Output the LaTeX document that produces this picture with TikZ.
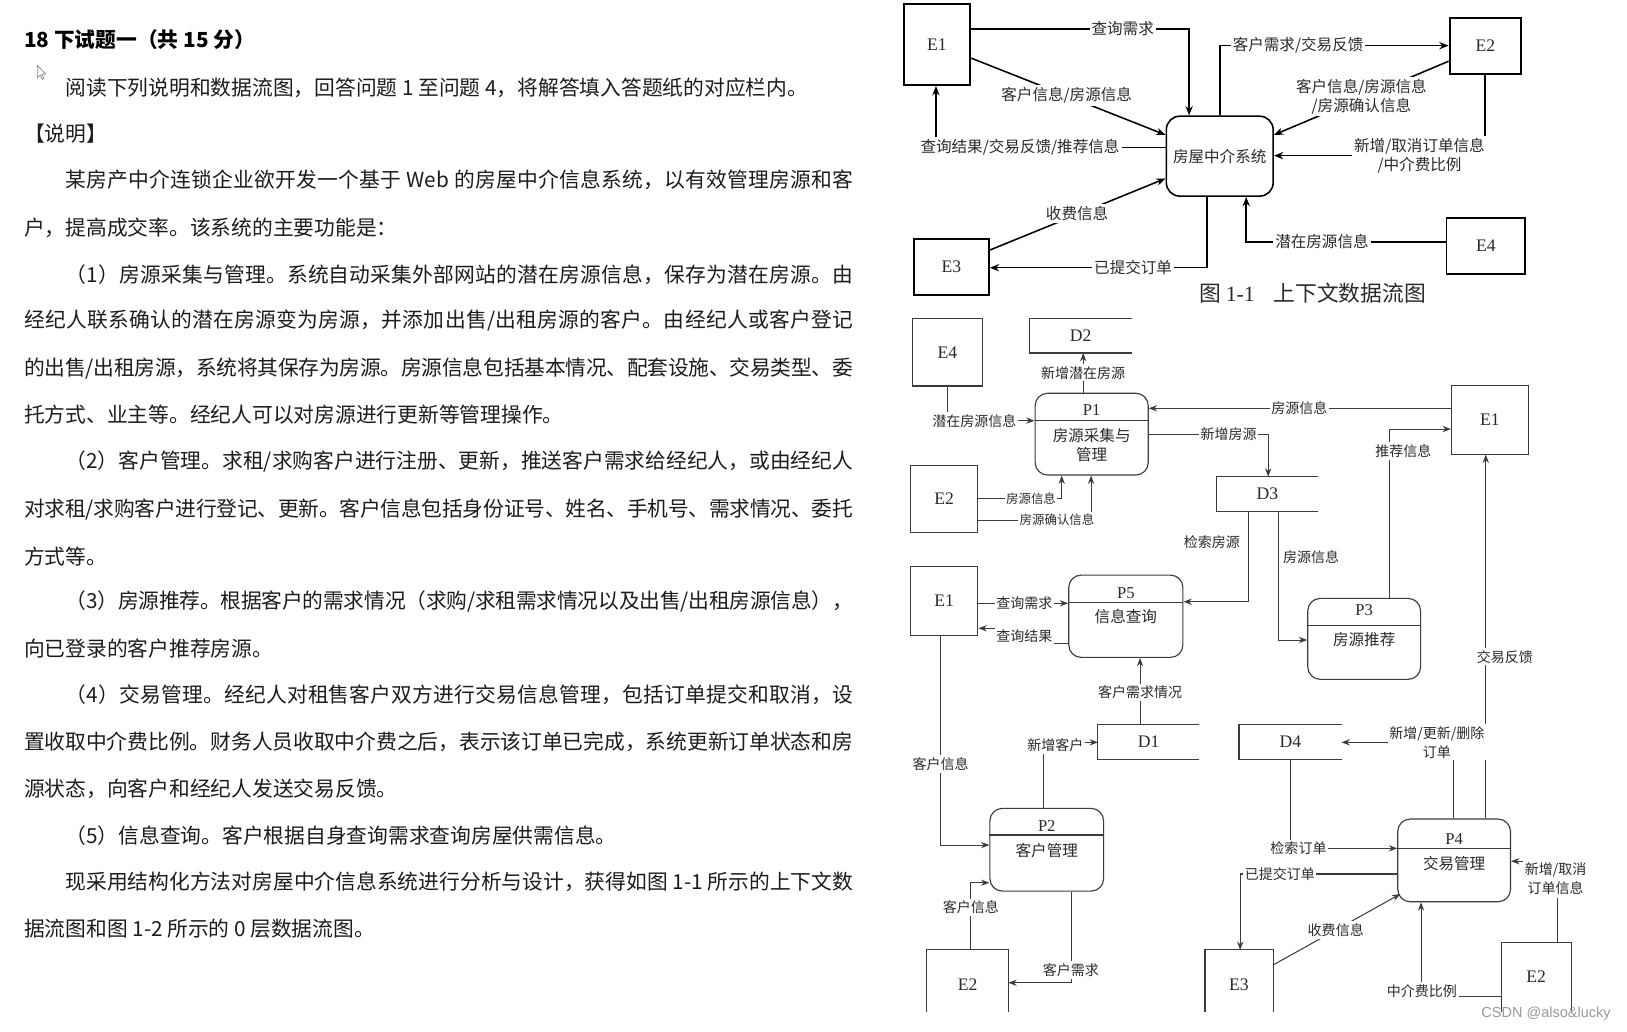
\documentclass[tikz,border=0pt]{standalone}
\usepackage{fontspec}
\setmainfont{Liberation Serif}
\newfontfamily\cjk{Noto Sans CJK SC}
\newfontfamily\wmfont{Liberation Sans}
\usetikzlibrary{arrows.meta,calc}
\definecolor{txt}{HTML}{1C1C1C}
\definecolor{dtx}{HTML}{2A2A2A}
\definecolor{gl}{HTML}{3C3C3C}
\definecolor{wmc}{HTML}{9A9A9A}
\def\sprend{\sprend}
\def\spr#1{\ifx\sprend#1\else#1\hskip 0pt plus 1pt minus 0.6pt\relax\expandafter\spr\fi}
\newcommand{\jst}[2]{\makebox[#1pt][s]{\spr#2\sprend\unskip}}
\begin{document}
\begin{tikzpicture}[x=1pt,y=-1pt,
 ent1/.style={draw=black, line width=1.8pt, inner sep=0pt, font=\fontsize{17}{17}\selectfont, text=dtx},
 sysb/.style={draw=black, line width=1.5pt, rounded corners=13pt, inner sep=0pt, font=\cjk\fontsize{15}{15}\selectfont, text=dtx},
 fa/.style={draw=black, line width=1.5pt, -{Stealth[length=9pt,width=7pt]}},
 la/.style={fill=white, inner xsep=2pt, inner ysep=2pt, font=\cjk\fontsize{15}{18}\selectfont, align=center, text=dtx},
 ent2/.style={draw=gl, line width=1.1pt, inner sep=0pt, font=\fontsize{17}{17}\selectfont, text=dtx},
 proc/.style={draw=gl, line width=1.1pt, rounded corners=12pt, inner sep=0pt},
 ptitle/.style={inner sep=0pt, font=\fontsize{16}{16}\selectfont, text=dtx},
 ptext/.style={inner sep=0pt, font=\cjk\fontsize{15}{17.7}\selectfont, align=center, text=dtx},
 fb/.style={draw=gl, line width=1pt, -{Stealth[length=8pt,width=6pt]}},
 lb/.style={fill=white, inner xsep=1.5pt, inner ysep=2pt, font=\cjk\fontsize{13.5}{18.3}\selectfont, align=center, text=dtx},
 lbs/.style={lb, font=\cjk\fontsize{12}{14}\selectfont},
 store/.style={inner sep=0pt, font=\fontsize{17}{17}\selectfont, text=dtx},
 sline/.style={draw=gl, line width=1.1pt},
 body/.style={anchor=west, inner sep=0pt, font=\cjk\fontsize{20}{24}\selectfont, text=txt},
 divl/.style={draw=gl, line width=1pt}
]
\useasboundingbox[fill=white] (0,0) rectangle (1568,994);

% ---------------- left text ----------------
\node[body, text=black] (t1) at (23,38.5) {\bfseries 18 下试题一（共 15 分）};
\draw[gray, line width=0.6pt, fill=white] (36,63) -- (36,75) -- (38.8,72.3) -- (40.8,76.5) -- (42.3,75.8) -- (40.3,71.6) -- (44,71.4) -- cycle;
\node[body] (t2) at (63,85) {阅读下列说明和数据流图，回答问题 1 至问题 4，将解答填入答题纸的对应栏内。};
\node[body] (t3) at (23,128.5) {【说明】};
\node[body] (t4) at (63,173.5) {\jst{759}{某房产中介连锁企业欲开发一个基于{ Web }的房屋中介信息系统，以有效管理房源和客}};
\node[body] (t5) at (23,220) {户，提高成交率。该系统的主要功能是：};
\node[body] (t6) at (63,265) {\jst{759}{（1）房源采集与管理。系统自动采集外部网站的潜在房源信息，保存为潜在房源。由}};
\node[body] (t7) at (23,308.5) {\jst{799}{经纪人联系确认的潜在房源变为房源，并添加出售/出租房源的客户。由经纪人或客户登记}};
\node[body] (t8) at (23,355) {\jst{799}{的出售/出租房源，系统将其保存为房源。房源信息包括基本情况、配套设施、交易类型、委}};
\node[body] (t9) at (23,400) {托方式、业主等。经纪人可以对房源进行更新等管理操作。};
\node[body] (t10) at (63,445) {\jst{759}{（2）客户管理。求租/求购客户进行注册、更新，推送客户需求给经纪人，或由经纪人}};
\node[body] (t11) at (23,491) {\jst{799}{对求租/求购客户进行登记、更新。客户信息包括身份证号、姓名、手机号、需求情况、委托}};
\node[body] (t12) at (23,536.5) {方式等。};
\node[body] (t13) at (63,580) {\jst{759}{（3）房源推荐。根据客户的需求情况（求购/求租需求情况以及出售/出租房源信息），}};
\node[body] (t14) at (23,625) {向已登录的客户推荐房源。};
\node[body] (t15) at (63,670) {\jst{759}{（4）交易管理。经纪人对租售客户双方进行交易信息管理，包括订单提交和取消，设}};
\node[body] (t16) at (23,715) {\jst{799}{置收取中介费比例。财务人员收取中介费之后，表示该订单已完成，系统更新订单状态和房}};
\node[body] (t17) at (23,760) {源状态，向客户和经纪人发送交易反馈。};
\node[body] (t18) at (63,805) {（5）信息查询。客户根据自身查询需求查询房屋供需信息。};
\node[body] (t19) at (63,850) {\jst{759}{现采用结构化方法对房屋中介信息系统进行分析与设计，获得如图{ 1-1 }所示的上下文数}};
\node[body] (t20) at (23,895) {据流图和图 1-2 所示的 0 层数据流图。};

% ---------------- Figure 1-1 ----------------
\node[ent1, minimum width=64, minimum height=78] (cE1) at (903,43) {E1};
\node[ent1, minimum width=69, minimum height=54] (cE2) at (1431.5,44) {E2};
\node[ent1, minimum width=72, minimum height=54] (cE3) at (917,257) {E3};
\node[ent1, minimum width=76, minimum height=54] (cE4) at (1432,237) {E4};
\node[sysb, minimum width=103, minimum height=77] (cS) at (1175.5,150.5) {房屋中介系统};

\draw[fa] (cE1.east |- 0,28) -- (1146,28) -- (cS.north -| 1146,0);
\node[la] (c1) at (1082,28) {查询需求};
\draw[fa] (cE1.east |- 0,56) -- (cS.west |- 0,130);
\node[la] (c2) at (1028,92) {客户信息/房源信息};
\draw[fa] (cS.west |- 0,142) -- (902,142) -- (cE1.south -| 902,0);
\node[la] (c3) at (983,142) {查询结果/交易反馈/推荐信息};
\draw[fa] (cE3.east |- 0,241) -- (cS.west |- 0,172);
\node[la] (c4) at (1038,206) {收费信息};
\draw[fa] (cS.south -| 1163,0) -- (1163,258) -- (cE3.east |- 0,258);
\node[la] (c5) at (1092,258) {已提交订单};
\draw[fa] (cE4.west |- 0,233) -- (1201,233) -- (cS.south -| 1201,0);
\node[la] (c6) at (1274,233) {潜在房源信息};
\draw[fa] (cS.north -| 1176,0) -- (1176,44) -- (cE2.west |- 0,44);
\node[la] (c7) at (1251,44) {客户需求/交易反馈};
\draw[fa] (cE2.west |- 0,59) -- (cS.east |- 0,130);
\node[la] (c8) at (1312,93) {客户信息/房源信息\\/房源确认信息};
\draw[fa] (cE2.south -| 1431,0) -- (1431,150) -- (cS.east |- 0,150);
\node[la] (c9) at (1368,150) {新增/取消订单信息\\/中介费比例};
\node[inner sep=0pt, font=\cjk\fontsize{21}{21}\selectfont, text=dtx] (cap) at (1265,283) {图 {\rmfamily 1-1}\hspace{18pt}上下文数据流图};

% ---------------- Figure 1-2 ----------------
% entities
\node[ent2, minimum width=68, minimum height=65] (E4b) at (913,339.5) {E4};
\node[ent2, minimum width=74, minimum height=66] (E1r) at (1435.8,404.6) {E1};
\node[ent2, minimum width=65, minimum height=65] (E2l) at (909.9,480.8) {E2};
\node[ent2, minimum width=65, minimum height=66] (E1l) at (909.9,579.1) {E1};
\node[inner sep=0pt, minimum width=78.6, minimum height=59.4] (E2b) at (932.3,945.3) {};
\draw[sline] (E2b.south west) -- (E2b.north west) -- (E2b.north east) -- (E2b.south east);
\node[store] (E2bt) at (932.5,949.3) {E2};
\node[inner sep=0pt, minimum width=65.2, minimum height=59.4] (E3b) at (1194.1,945.3) {};
\draw[sline] (E3b.south west) -- (E3b.north west) -- (E3b.north east) -- (E3b.south east);
\node[store] (E3bt) at (1193.9,949.3) {E3};
\node[inner sep=0pt, minimum width=66.4, minimum height=66.8] (E2r) at (1480.8,941.6) {};
\draw[sline] (E2r.south west) -- (E2r.north west) -- (E2r.north east) -- (E2r.south east);
\node[store] (E2rt) at (1480.5,941.3) {E2};

% data stores
\node[store, minimum width=99, minimum height=33] (D2) at (1041.5,323.5) {D2};
\draw[sline] (D2.north east) -- (D2.north west) -- (D2.south west) -- (D2.south east);
\node[store, minimum width=97.5, minimum height=33] (D3) at (1221.5,476) {D3};
\draw[sline] (D3.north east) -- (D3.north west) -- (D3.south west) -- (D3.south east);
\node[store, minimum width=97.4, minimum height=32.7] (D1) at (1107,715) {D1};
\draw[sline] (D1.north east) -- (D1.north west) -- (D1.south west) -- (D1.south east);
\node[store, minimum width=98.4, minimum height=32.7] (D4) at (1243.5,715) {D4};
\draw[sline] (D4.north east) -- (D4.north west) -- (D4.south west) -- (D4.south east);

% processes
\node[proc, minimum width=109, minimum height=78.8] (P1) at (1052.1,418.4) {};
\node[ptitle] (P1t) at (1052.1,395) {P1};
\draw[divl] (P1.west |- 0,404.8) -- (P1.east |- 0,404.8);
\node[ptext] (P1x) at (1052.1,429) {房源采集与\\管理};

\node[proc, minimum width=110, minimum height=79.3] (P5) at (1085,593.9) {};
\node[ptitle] (P5t) at (1085,571.8) {P5};
\draw[divl] (P5.west |- 0,580.8) -- (P5.east |- 0,580.8);
\node[ptext] (P5x) at (1085,594.3) {信息查询};

\node[proc, minimum width=108.7, minimum height=78] (P3) at (1314.7,615.7) {};
\node[ptitle] (P3t) at (1314.7,587.9) {P3};
\draw[divl] (P3.west |- 0,602.4) -- (P3.east |- 0,602.4);
\node[ptext] (P3x) at (1314.7,616.8) {房源推荐};

\node[proc, minimum width=109.6, minimum height=79.7] (P2) at (1008.8,818.9) {};
\node[ptitle] (P2t) at (1008.8,796) {P2};
\draw[divl] (P2.west |- 0,804.7) -- (P2.east |- 0,804.7);
\node[ptext] (P2x) at (1008.8,819.9) {客户管理};

\node[proc, minimum width=108.7, minimum height=79.7] (P4) at (1401.4,829.2) {};
\node[ptitle] (P4t) at (1401.4,808.6) {P4};
\draw[divl] (P4.west |- 0,817.6) -- (P4.east |- 0,817.6);
\node[ptext] (P4x) at (1401.4,832) {交易管理};

% flows
\draw[fb] (E4b.south) -- (E4b.south |- 0,405.4) -- (P1.west |- 0,405.4);
\node[lb] (f1) at (939,405.4) {潜在房源信息};
\draw[fb] (P1.north -| 1043.9,0) -- (D2.south -| 1043.9,0);
\node[lb] (f2) at (1043.9,359.2) {新增潜在房源};
\draw[fb] (E1r.west |- 0,393.5) -- (P1.east |- 0,393.5);
\node[lb] (f3) at (1252.3,393.5) {房源信息};
\draw[fb] (P1.east |- 0,418.6) -- (1222.2,418.6) -- (D3.north -| 1222.2,0);
\node[lb] (f4) at (1184,418.6) {新增房源};
\draw[fb] (E2l.east |- 0,480.3) -- (1023.2,480.3) -- (P1.south -| 1023.2,0);
\node[lbs] (f5) at (993.6,480.3) {房源信息};
\draw[fb] (E2l.east |- 0,501.2) -- (1051.5,501.2) -- (P1.south -| 1051.5,0);
\node[lbs] (f6) at (1018.7,501.2) {房源确认信息};
\draw[fb] (D3.south -| 1203.3,0) -- (1203.3,579.9) -- (P5.east |- 0,579.9);
\node[lb, fill=none] (f7) at (1168,522) {检索房源};
\draw[fb] (D3.south -| 1232.5,0) -- (1232.5,616.8) -- (P3.west |- 0,616.8);
\node[lb, fill=none] (f8) at (1263.5,536.5) {房源信息};
\draw[fb] (P3.north -| 1339,0) -- (1339,413.5) -- (E1r.west |- 0,413.5);
\node[lb] (f9) at (1352.4,434.7) {推荐信息};
\draw[fb] (P4.north -| 1431.9,0) -- (E1r.south -| 1431.9,0);
\node[lb] (f10) at (1450.3,632.9) {交易反馈};
\draw[fb] (E1l.east |- 0,581.4) -- (P5.west |- 0,581.4);
\node[lb] (f11) at (987.3,581.4) {查询需求};
\draw[fb] (P5.west |- 0,620) -- (1000,620) -- (1000,605.5) -- (E1l.east |- 0,605.5);
\node[lb, inner ysep=3pt] (f12) at (987.3,613) {查询结果};
\draw[fb] (D1.north -| 1098.7,0) -- (P5.south -| 1098.7,0);
\node[lb] (f13) at (1098.7,667.2) {客户需求情况};
\draw[fb] (P2.north -| 1005.7,0) -- (1005.7,715.4) -- (D1.west |- 0,715.4);
\node[lb] (f14) at (1017,718) {新增客户};
\draw[fb] (E1l.south -| 906.5,0) -- (906.5,814.4) -- (P2.west |- 0,814.4);
\node[lb] (f15) at (906.5,736.3) {客户信息};
\draw[fb] (E2b.north -| 935.6,0) -- (935.6,850.7) -- (P2.west |- 0,850.7);
\node[lb] (f16) at (935.6,874.4) {客户信息};
\draw[fb] (P2.south -| 1032.7,0) -- (1032.7,947.1) -- (E2b.east |- 0,947.1);
\node[lb] (f17) at (1032,934.9) {客户需求};
\draw[fb] (D4.south -| 1243.7,0) -- (1243.7,817.6) -- (P4.west |- 0,817.6);
\node[lb] (f18) at (1251.4,817.6) {检索订单};
\draw[fb] (P4.west |- 0,842.3) -- (1195.2,842.3) -- (E3b.north -| 1195.2,0);
\node[lb] (f19) at (1233.4,842.3) {已提交订单};
\draw[fb] (E3b.east |- 0,930) -- ($(P4.south west)+(3,-8)$);
\node[lb] (f20) at (1287.3,896.3) {收费信息};
\draw[fb] (E2r.west |- 0,960.6) -- (1369.5,960.6) -- (P4.south -| 1369.5,0);
\node[lb] (f21) at (1370.4,954.8) {中介费比例};
\draw[fb] (E2r.north -| 1500.6,0) -- (1500.6,830) -- (P4.east |- 0,830);
\node[lb, inner ysep=3pt] (f22) at (1499.2,847) {新增/取消\\订单信息};
\draw[fb] (P4.north -| 1401,0) -- (1401,715.4) -- (D4.east |- 0,715.4);
\node[lb] (f23) at (1384.8,715.3) {新增/更新/删除\\订单};

\node[inner sep=0pt, font=\wmfont\fontsize{14}{14}\selectfont, text=wmc] (wm) at (1490,977) {CSDN @also\&lucky};
\end{tikzpicture}
\end{document}
